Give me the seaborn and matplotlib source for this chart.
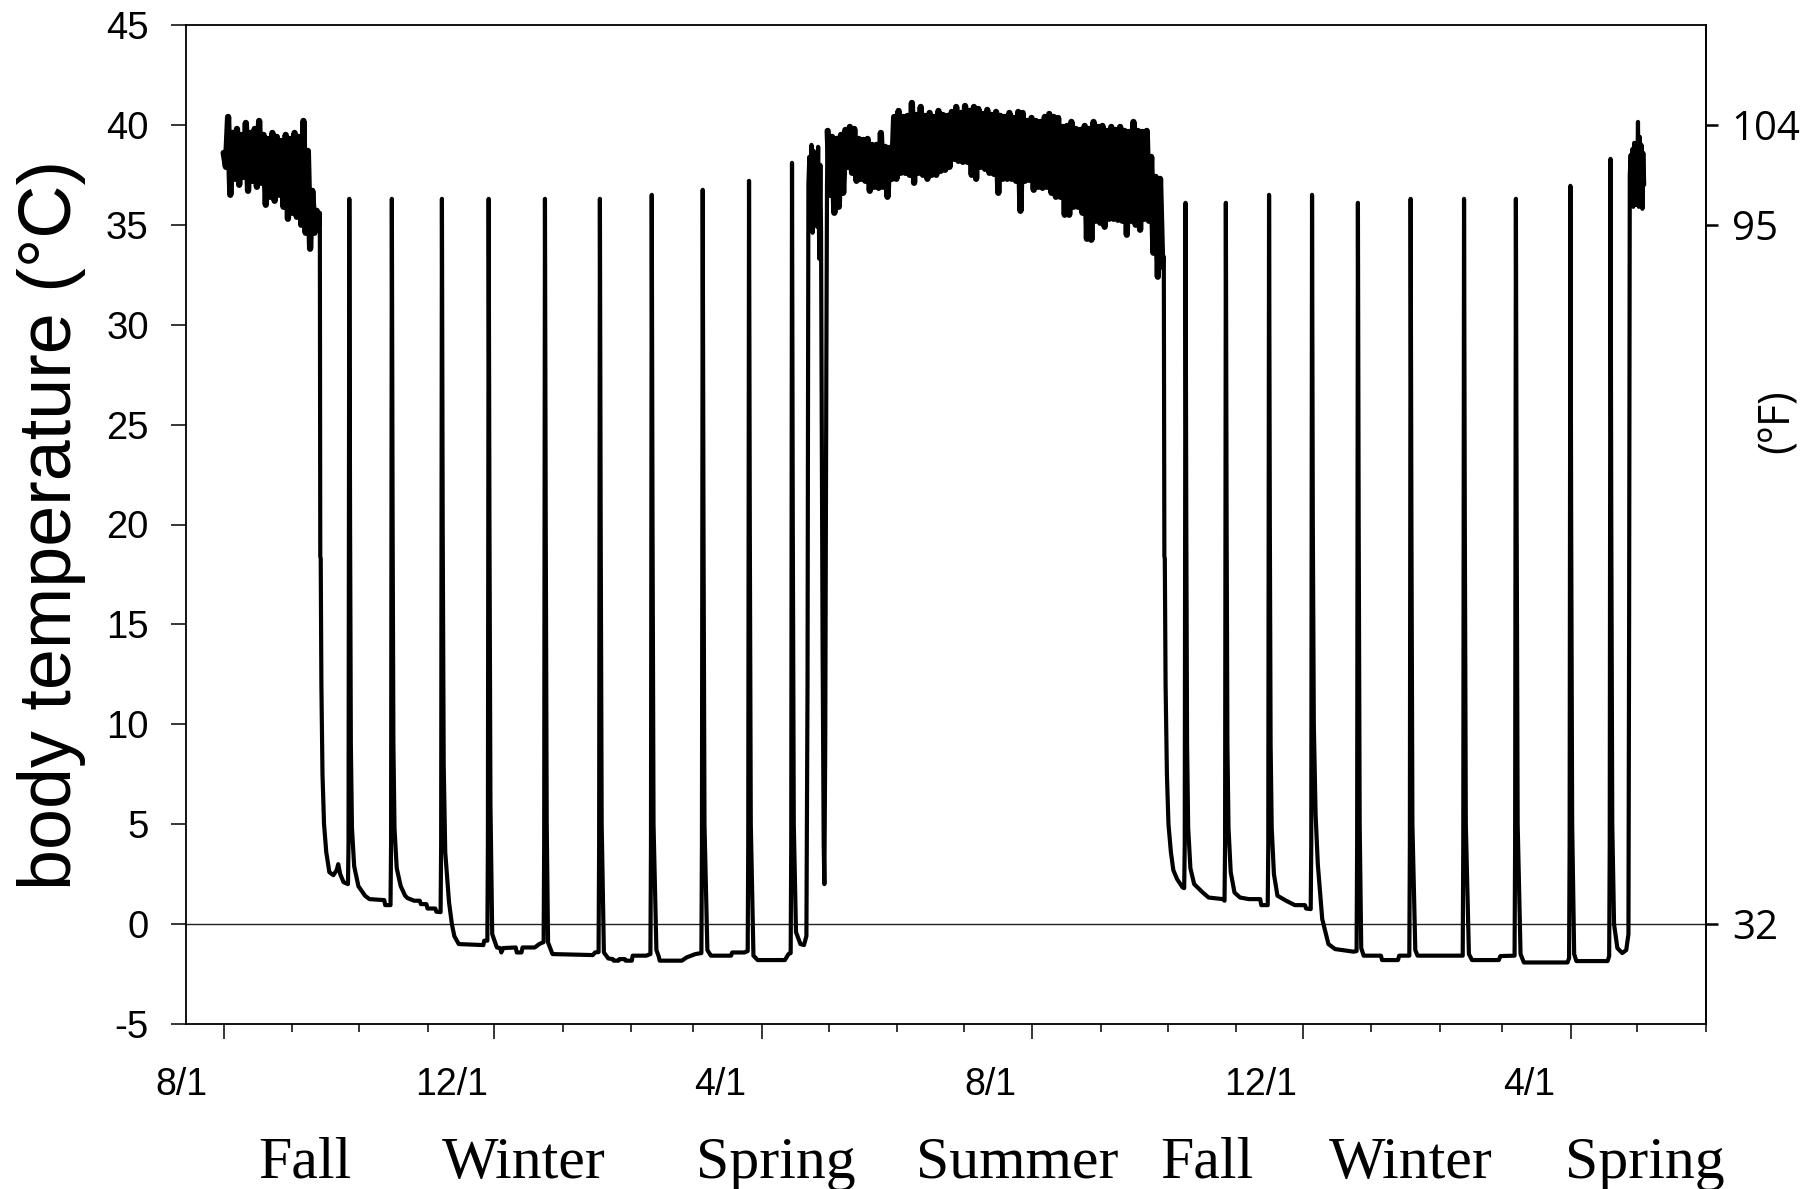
import numpy as np
import pandas as pd
import matplotlib
matplotlib.use("Agg")
import matplotlib.pyplot as plt
import matplotlib.dates as mdates
from matplotlib import font_manager
from matplotlib.transforms import ScaledTranslation, blended_transform_factory
import seaborn as sns

# ---------------------------------------------------------------------------
# Body temperature record (days counted from 1 Aug 2009, temperatures in °C)
# ---------------------------------------------------------------------------
START = pd.Timestamp("2009-08-01")

# late-summer euthermic season: alternating daily highs (even days) and lows (odd days)
active1_hi = [38.6, 40.4, 39.6, 39.8, 39.5, 40.1, 39.6, 39.8, 40.2, 39.5, 39.3,
              39.6, 39.4, 39.2, 39.5, 39.3, 39.6, 39.4, 40.2, 38.7, 36.7, 35.7]
active1_lo = [37.9, 36.5, 37.3, 37.0, 37.4, 36.7, 37.2, 36.9, 37.1, 36.0, 36.4,
              36.2, 36.5, 35.9, 35.3, 35.6, 35.4, 35.0, 34.6, 33.8, 34.6, 35.0]

# first hibernation season: torpor bouts and interbout arousals (day, Tb)
hib1 = [
    (43.4, 35.6), (43.6, 18.4), (43.8, 18.3), (44.1, 12.0), (44.6, 7.5), (45.3, 5.0),
    (46.3, 3.6), (47.7, 2.6), (49.5, 2.45), (51.0, 2.7), (51.7, 3.0), (52.6, 2.5),
    (54.1, 2.1), (56.1, 2.0),
    (56.35, 4.0), (56.7, 36.3), (57.05, 20.0), (57.4, 9.0), (57.9, 4.8), (58.9, 2.9),
    (60.8, 1.9), (63.8, 1.42), (65.8, 1.25), (72.5, 1.2), (72.9, 0.95), (75.3, 0.95),
    (75.55, 4.0), (75.9, 36.3), (76.25, 20.0), (76.6, 9.0), (77.1, 4.8), (78.1, 2.8),
    (79.9, 1.9), (81.9, 1.42), (83.0, 1.3), (86.0, 1.17), (88.5, 1.17), (89.0, 1.0),
    (91.5, 1.0), (92.0, 0.78), (95.5, 0.78), (96.0, 0.62), (97.9, 0.6),
    (98.15, 4.0), (98.5, 36.3), (98.85, 20.0), (99.3, 8.0), (100.0, 3.6), (101.7, 1.1),
    (103.0, 0.0), (104.1, -0.6), (106.1, -1.0), (117.2, -1.05), (117.6, -0.83),
    (119.0, -0.83),
    (119.25, 4.0), (119.6, 36.3), (119.95, 20.0), (120.4, 6.0), (121.2, -0.5),
    (123.3, -1.17), (124.8, -1.2), (125.3, -1.42), (126.2, -1.2), (131.8, -1.17),
    (132.3, -1.42), (134.4, -1.42), (134.9, -1.17), (140.4, -1.17), (142.4, -1.0),
    (144.4, -0.9),
    (144.65, 4.0), (145.0, 36.3), (145.35, 20.0), (145.8, 5.0), (146.4, -0.92),
    (148.4, -1.5), (166.6, -1.55), (167.6, -1.42), (169.2, -1.4),
    (169.45, 4.0), (169.8, 36.3), (170.15, 20.0), (170.6, 5.0), (171.6, -1.42),
    (173.6, -1.72), (175.6, -1.75), (176.0, -1.83), (178.2, -1.83), (178.6, -1.75),
    (181.0, -1.75), (181.4, -1.83), (184.2, -1.83), (184.6, -1.58), (190.7, -1.58),
    (192.6, -1.5),
    (192.85, 4.0), (193.2, 36.5), (193.55, 20.0), (194.0, 5.0), (195.3, -1.3),
    (196.3, -1.6), (196.8, -1.83), (206.8, -1.83), (208.9, -1.67), (212.9, -1.5),
    (215.6, -1.45),
    (215.85, 4.0), (216.2, 36.75), (216.55, 20.0), (217.0, 5.0), (218.3, -1.3),
    (219.9, -1.58), (229.0, -1.58), (229.5, -1.42), (235.0, -1.42), (236.5, -1.35),
    (236.75, 4.0), (237.1, 37.2), (237.45, 20.0), (237.9, 5.0), (239.1, -1.58),
    (241.0, -1.8), (253.3, -1.8), (254.9, -1.5), (255.9, -1.45),
    (256.15, 4.0), (256.5, 38.1), (256.85, 20.0), (257.3, 5.0), (258.3, -0.4),
    (260.3, -1.0), (261.9, -1.05), (263.0, -0.6),
    (263.5, 12.0), (263.9, 37.0), (264.3, 38.4), (264.8, 35.4), (265.3, 39.0),
    (265.8, 34.6), (266.3, 38.7), (266.8, 35.8), (267.3, 38.3), (267.8, 34.9),
    (268.3, 38.9), (268.8, 33.3), (269.3, 38.0), (269.6, 34.7),
    (270.3, 14.0), (270.8, 4.0), (271.1, 2.0), (271.5, 9.0), (272.0, 28.0),
    (272.3, 37.0),
]

# summer euthermic season from day 272.6: highs on even days, lows on odd days
summer_hi = [39.7, 39.4, 39.3, 39.5, 39.75, 39.9, 39.8, 39.3, 39.25, 39.3,
             39.0, 39.0, 39.6, 38.9, 38.85, 40.4, 40.7, 40.4, 40.45, 41.1,
             40.5, 40.9, 40.45, 40.6, 40.4, 40.7, 40.5, 40.45, 40.65, 40.9,
             40.6, 40.95, 40.7, 40.9, 40.8, 40.55, 40.75, 40.5, 40.65, 40.45,
             40.4, 40.6, 40.35, 40.65, 40.6, 40.2, 40.35, 40.2, 40.15, 40.4,
             40.55, 40.4, 40.35, 39.9, 39.95, 40.15, 39.8, 39.75, 39.95, 39.8,
             40.15, 39.9, 39.95, 39.7, 39.9, 39.75, 39.9, 39.7, 39.65, 40.15,
             39.7, 39.65, 39.7, 38.4, 37.4, 37.3]
summer_lo = [36.5, 35.6, 35.9, 36.6, 37.9, 37.6, 37.2, 37.3, 37.2, 36.7,
             36.9, 36.85, 36.9, 36.4, 37.3, 37.3, 37.6, 37.6, 37.5, 37.1,
             37.6, 37.5, 37.3, 37.5, 37.5, 37.7, 37.75, 37.9, 38.3, 38.2,
             38.15, 38.15, 37.5, 37.3, 37.9, 37.8, 37.6, 37.55, 36.6, 37.3,
             37.3, 37.3, 37.2, 35.7, 37.2, 37.25, 36.75, 36.9, 36.85, 36.9,
             36.6, 36.4, 36.4, 35.5, 35.5, 35.9, 35.9, 35.6, 34.3, 34.25,
             35.2, 35.1, 34.9, 35.3, 35.3, 35.25, 35.2, 34.5, 35.2, 35.0,
             34.75, 35.3, 35.2, 33.6, 32.4, 32.9]
SUMMER_START = 272.6

# second hibernation season and spring emergence (day, Tb)
hib2 = [
    (424.3, 33.4), (424.55, 18.4), (424.75, 18.3), (425.1, 12.0), (425.7, 7.5),
    (426.4, 5.0), (427.5, 3.6), (428.6, 2.7), (430.3, 2.25), (432.8, 1.83), (433.5, 1.8),
    (433.75, 4.0), (434.1, 36.1), (434.45, 20.0), (434.8, 9.0), (435.3, 4.8), (436.3, 2.8),
    (438.0, 2.0), (441.9, 1.58), (444.5, 1.33), (451.0, 1.25), (451.7, 1.17),
    (451.95, 4.0), (452.3, 36.1), (452.65, 20.0), (453.0, 9.0), (453.5, 4.8), (454.5, 2.6),
    (456.2, 1.58), (458.7, 1.33), (462.7, 1.25), (467.8, 1.25), (468.3, 0.95), (471.2, 0.95),
    (471.45, 4.0), (471.8, 36.5), (472.15, 20.0), (472.5, 9.0), (473.0, 4.8), (474.0, 2.5),
    (475.6, 1.42), (479.5, 1.17), (483.4, 0.95), (488.0, 0.95), (488.5, 0.78), (490.6, 0.75),
    (490.85, 4.0), (491.2, 36.5), (491.55, 20.0), (492.0, 10.0), (492.8, 5.5), (493.8, 3.0),
    (495.8, 0.25), (498.6, -1.0), (501.6, -1.25), (510.0, -1.38), (511.3, -1.35),
    (511.55, 4.0), (511.9, 36.1), (512.25, 20.0), (512.7, 5.0), (513.4, -1.2), (514.5, -1.58),
    (522.3, -1.58), (522.8, -1.8), (530.0, -1.8), (530.5, -1.58), (535.1, -1.58),
    (535.35, 4.0), (535.7, 36.3), (536.05, 20.0), (536.5, 5.0), (537.8, -1.3), (538.8, -1.58),
    (559.2, -1.58),
    (559.45, 4.0), (559.8, 36.3), (560.15, 20.0), (560.6, 5.0), (562.0, -1.5), (563.4, -1.8),
    (575.5, -1.8), (576.2, -1.6), (582.6, -1.58),
    (582.85, 4.0), (583.2, 36.3), (583.55, 20.0), (584.0, 5.0), (585.3, -1.5), (586.8, -1.92),
    (606.5, -1.92), (607.2, -1.7),
    (607.45, 4.0), (607.8, 36.95), (608.15, 20.0), (608.6, 5.0), (609.5, -1.5), (610.5, -1.85),
    (624.6, -1.85), (625.3, -1.6),
    (625.55, 4.0), (625.9, 38.3), (626.25, 20.0), (626.7, 5.0), (627.5, 0.0), (629.0, -1.2),
    (631.2, -1.45), (633.0, -1.3), (634.0, -0.5),
    (634.3, 15.0), (634.6, 37.5), (635.0, 38.5), (635.4, 36.0), (635.8, 38.8), (636.2, 35.9),
    (636.6, 39.1), (637.0, 36.3), (637.4, 38.9), (637.8, 36.0), (638.3, 40.15), (638.7, 35.9),
    (639.1, 39.4), (639.5, 36.2), (639.9, 39.0), (640.3, 35.8), (640.7, 38.6), (641.1, 37.0),
]

# axis annotations
tick_dates = ["2009-08-01", "2009-12-01", "2010-04-01",
              "2010-08-01", "2010-12-01", "2011-04-01"]
tick_labels = ["8/1", "12/1", "4/1", "8/1", "12/1", "4/1"]
celsius_ticks = [-5, 0, 5, 10, 15, 20, 25, 30, 35, 40, 45]
fahrenheit_ticks = [32, 95, 104]
seasons = ["Fall", "Winter", "Spring", "Summer", "Fall", "Winter", "Spring"]
season_day = [36.6, 135.4, 249.4, 358.2, 443.8, 535.9, 641.5]


def pick_font(*names):
    for name in names:
        try:
            font_manager.findfont(name, fallback_to_default=False)
            return name
        except Exception:
            continue
    return "DejaVu Sans"


SANS = pick_font("Liberation Sans", "Arial", "DejaVu Sans")
SERIF = pick_font("Liberation Serif", "Times New Roman", "DejaVu Serif")
RIGHT = pick_font("Open Sans", "Noto Sans", "DejaVu Sans")

sns.set_theme(style="ticks")
plt.rcParams["font.family"] = [SANS, "DejaVu Sans"]
plt.rcParams["axes.linewidth"] = 1.3

# ---------------------------------------------------------------------------
# assemble the continuous trace
# ---------------------------------------------------------------------------
rows = []
for i, (hi, lo) in enumerate(zip(active1_hi, active1_lo)):
    rows += [(2 * i, hi, "active"), (2 * i + 1, lo, "active")]
rows += [(d, t, "hib") for d, t in hib1]
for i, (hi, lo) in enumerate(zip(summer_hi, summer_lo)):
    rows += [(SUMMER_START + 2 * i, hi, "summer"),
             (SUMMER_START + 2 * i + 1, lo, "summer")]
rows += [(d, t, "hib") for d, t in hib2]

df = pd.DataFrame(rows, columns=["day", "tb", "phase"])
df["date"] = START + pd.to_timedelta(df["day"], unit="D")

# ---------------------------------------------------------------------------
# figure
# ---------------------------------------------------------------------------
W, H = 1806, 1189
fig = plt.figure(figsize=(W / 100, H / 100), dpi=100)
ax = fig.add_axes([186 / W, (H - 1024) / H, 1520 / W, 999 / H])

ax.axhline(0, color="#222222", lw=1.0, zorder=1)
sns.lineplot(data=df, x="date", y="tb", color="black", lw=3.0,
             estimator=None, sort=False, ax=ax, zorder=3)
# the dense day/night cycling of the active seasons reads as a solid band
for phase in ["active", "summer"]:
    sns.lineplot(data=df[df["phase"] == phase], x="date", y="tb", color="black",
                 lw=4.5, estimator=None, sort=False, ax=ax, zorder=3)

ax.set_xlim(pd.Timestamp("2009-07-15"), pd.Timestamp("2011-06-01"))
ax.set_ylim(-5, 45)
ax.set_yticks(celsius_ticks)
ax.set_yticklabels([str(v) for v in celsius_ticks])

ax.set_xticks(pd.to_datetime(tick_dates))
ax.set_xticklabels(tick_labels)
ax.xaxis.set_minor_locator(mdates.MonthLocator())

for side in ["top", "right", "left", "bottom"]:
    ax.spines[side].set_visible(True)
    ax.spines[side].set_color("black")
    ax.spines[side].set_linewidth(1.3)

ax.tick_params(axis="y", which="major", direction="out", length=10.8, width=1.1,
               pad=16, labelsize=27.5, colors="black", right=False)
ax.tick_params(axis="x", which="major", direction="out", length=10.8, width=1.1,
               pad=20, labelsize=27, colors="black", top=False)
ax.tick_params(axis="x", which="minor", direction="out", length=6.1, width=1.1,
               colors="black", top=False)

ax.set_xlabel("")
ax.set_ylabel("body temperature (°C)", fontsize=53, color="black")
ax.yaxis.label.set_va("center")
ax.yaxis.set_label_coords(-0.0882, 0.5)

# right-hand Fahrenheit scale
sec = ax.secondary_yaxis("right", functions=(lambda c: c * 9 / 5 + 32,
                                             lambda f: (f - 32) * 5 / 9))
sec.set_yticks(fahrenheit_ticks)
sec.set_yticklabels([str(v) for v in fahrenheit_ticks])
sec.tick_params(axis="y", direction="out", length=8.6, width=1.8, pad=10,
                labelsize=29, colors="black")
for lbl in sec.get_yticklabels():
    lbl.set_fontfamily([RIGHT, "DejaVu Sans"])
sec.spines["right"].set_linewidth(1.3)
fig.text(1778 / W, 1 - 421 / H, "(ºF)", rotation=90, ha="center", va="center",
         fontsize=31, family=[RIGHT, "DejaVu Sans"], color="black")

# date labels sit a little to the left of their ticks
shift = ScaledTranslation(-42 / 100, 0, fig.dpi_scale_trans)
for lbl in ax.get_xticklabels():
    lbl.set_transform(lbl.get_transform() + shift)

# season names under the date axis
trans = blended_transform_factory(ax.transData, fig.transFigure)
for name, d in zip(seasons, season_day):
    ax.text(START + pd.Timedelta(days=d), (H - 1178) / H, name,
            transform=trans, ha="center", va="baseline",
            fontsize=43, family=[SERIF, "DejaVu Serif"], color="black",
            clip_on=False)

fig.savefig("out.png", dpi=100)
